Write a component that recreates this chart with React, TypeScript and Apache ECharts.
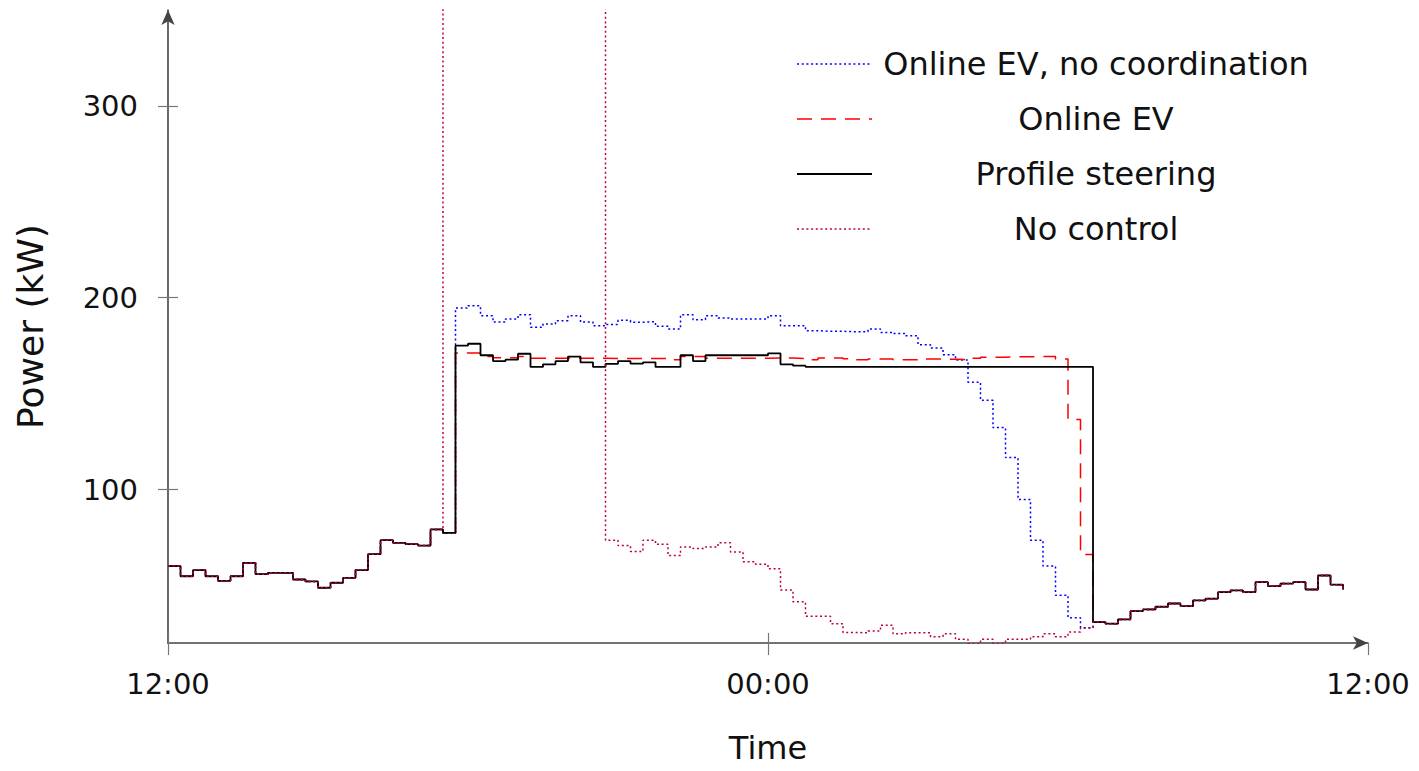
import React, { useEffect, useRef } from "react";
import * as echarts from "echarts";

// ---- labels ----
const seriesNames = [
  "Online EV, no coordination",
  "Online EV",
  "Profile steering",
  "No control",
];
const xTickValues = [0, 12, 24];
const xTickLabels = ["12:00", "00:00", "12:00"];
const yTickValues = [100, 200, 300];

// 15-minute steps, hours after 12:00
const STEP_HOURS = 0.25;

// shared load 12:00 - 17:30 (steps 0..21), kW
const afternoonBase = [
  60.1, 54.8, 58.0, 54.8, 52.4, 54.8, 61.8, 55.9, 56.6, 56.6, 53.1,
  52.1, 48.8, 51.4, 54.0, 58.0, 66.3, 73.6, 72.2, 71.5, 70.8, 79.2,
];

// shared load 06:30 - 11:30 (steps 74..93 plus closing point), kW
const morningBase = [
  30.9, 30.1, 32.3, 36.6, 37.5, 38.9, 40.6, 39.2, 42.2, 43.1, 46.5,
  47.4, 46.5, 51.7, 49.6, 51.0, 51.7, 47.9, 55.2, 50.4, 47.9,
];

// charging window 17:30 - 06:30 (steps 22..73), kW
const noCoordinationWindow = [
  77.4, 194.6, 195.8, 190.6, 187.3, 188.9, 191.1, 184.6, 186.3, 188.0,
  190.6, 187.3, 185.4, 186.1, 188.2, 187.2, 187.5, 185.1, 183.7, 191.1,
  188.5, 190.6, 189.4, 188.9, 188.9, 188.9, 190.6, 185.4, 185.4, 182.8,
  182.5, 182.5, 182.3, 182.3, 183.7, 181.9, 181.3, 180.2, 175.5, 173.8,
  170.3, 167.5, 156.0, 146.5, 132.3, 116.7, 94.8, 73.6, 60.1, 44.9,
  33.2, 28.0,
];
const onlineEVWindow = [
  77.4, 171.2, 171.2, 169.4, 168.7, 168.7, 169.4, 168.5, 168.5, 168.5,
  168.5, 168.5, 168.5, 168.3, 168.3, 168.3, 168.3, 168.3, 167.7, 169.4,
  169.4, 168.5, 168.5, 168.5, 168.5, 168.5, 168.6, 168.6, 168.3, 167.7,
  168.6, 168.6, 168.2, 167.7, 168.1, 168.1, 167.7, 167.7, 168.1, 168.1,
  167.9, 167.7, 168.4, 169.0, 169.0, 169.2, 169.2, 169.4, 169.4, 168.1,
  136.5, 66.1,
];
const profileSteeringWindow = [
  77.4, 175.0, 176.0, 170.0, 167.0, 167.7, 170.8, 163.9, 165.3, 167.0,
  169.3, 166.3, 163.9, 165.5, 167.0, 165.6, 166.3, 163.9, 163.9, 170.0,
  167.0, 170.0, 170.0, 170.0, 170.0, 170.0, 171.0, 165.3, 164.6, 164.0,
  164.0, 164.0, 164.0, 164.0, 164.0, 164.0, 164.0, 164.0, 164.0, 164.0,
  164.0, 164.0, 164.0, 164.0, 164.0, 164.0, 164.0, 164.0, 164.0, 164.0,
  164.0, 164.0,
];
// 17:30 - 20:45 the uncontrolled peak runs far above the plot (clipped)
const noControlWindow = [
  400, 400, 400, 400, 400, 400, 400, 400, 400, 400, 400, 400, 400,
  73.6, 70.8, 67.7, 73.6, 71.5, 65.6, 70.0, 69.3, 70.0, 72.2, 67.5,
  62.3, 61.1, 58.7, 47.6, 41.5, 33.9, 33.9, 30.1, 25.5, 25.3, 26.2,
  29.2, 24.8, 25.3, 25.3, 23.3, 24.8, 21.9, 19.6, 21.9, 19.8, 21.9,
  21.9, 23.3, 24.8, 23.3, 25.7, 27.8,
];

const windows = [
  noCoordinationWindow,
  onlineEVWindow,
  profileSteeringWindow,
  noControlWindow,
];

const colors = ["#0000ff", "#ff0000", "#000000", "#bf0040"];
const dashes: any[] = [[2, 2.7], [15, 9], "solid", [2, 2.7]];
const widths = [1.5, 1.5, 1.8, 1.5];

const FONT = "'DejaVu Sans', sans-serif";
const TEXT = "#111";

function buildPoints(win: number[]) {
  const all = [...afternoonBase, ...win, ...morningBase];
  return all.map((v, k) => [k * STEP_HOURS, v]);
}

export default function App() {
  const ref = useRef<HTMLDivElement>(null);

  useEffect(() => {
    if (!ref.current) return;
    const chart = echarts.init(ref.current, null, { renderer: "svg" });

    const series = seriesNames.map((name, i) => ({
      name,
      type: "line",
      step: "end",
      showSymbol: false,
      symbol: "none",
      clip: true,
      data: buildPoints(windows[i]),
      lineStyle: { color: colors[i], width: widths[i], type: dashes[i] },
      itemStyle: { color: colors[i] },
      z: 2 + i,
    }));

    const legendRowsY = [64, 119, 174, 229];
    const legendGraphics: any[] = [];
    seriesNames.forEach((name, i) => {
      legendGraphics.push({
        type: "line",
        shape: { x1: 797, y1: legendRowsY[i], x2: 872, y2: legendRowsY[i] },
        style: {
          stroke: colors[i],
          lineWidth: widths[i],
          lineDash: dashes[i] === "solid" ? null : dashes[i],
        },
      });
      legendGraphics.push({
        type: "text",
        x: 1096,
        y: legendRowsY[i],
        style: {
          text: name,
          fill: TEXT,
          font: `32px ${FONT}`,
          textAlign: "center",
          textVerticalAlign: "middle",
        },
      });
    });

    chart.setOption({
      animation: false,
      backgroundColor: "#ffffff",
      grid: { left: 168, right: 51, top: 10, bottom: 128, containLabel: false },
      xAxis: [
        {
          type: "value",
          min: 0,
          max: 24,
          name: "Time",
          nameLocation: "middle",
          nameGap: 89,
          nameTextStyle: { fontSize: 32, fontFamily: FONT, color: TEXT },
          splitLine: { show: false },
          axisLine: {
            show: true,
            lineStyle: { color: "#444", width: 1.6 },
            symbol: ["none", "arrow"],
            symbolSize: [10, 15],
          },
          axisTick: {
            show: true,
            inside: false,
            length: 12,
            customValues: xTickValues,
            lineStyle: { color: "#777", width: 1.2 },
          },
          axisLabel: {
            show: true,
            customValues: xTickValues,
            margin: 26,
            fontSize: 29,
            fontFamily: FONT,
            color: TEXT,
            formatter: (v: number) => xTickLabels[xTickValues.indexOf(v)] ?? "",
          },
        },
        {
          type: "value",
          min: 0,
          max: 24,
          position: "bottom",
          splitLine: { show: false },
          axisLine: { show: false },
          axisLabel: { show: false },
          axisTick: {
            show: true,
            inside: true,
            length: 10,
            customValues: xTickValues.slice(0, 2),
            lineStyle: { color: "#777", width: 1.2 },
          },
        },
      ],
      yAxis: [
        {
          type: "value",
          min: 20,
          max: 350,
          name: "Power (kW)",
          nameLocation: "middle",
          nameGap: 120,
          nameRotate: 90,
          nameTextStyle: { fontSize: 36, fontFamily: FONT, color: TEXT },
          splitLine: { show: false },
          axisLine: {
            show: true,
            lineStyle: { color: "#444", width: 1.6 },
            symbol: ["none", "arrow"],
            symbolSize: [10, 15],
          },
          axisTick: {
            show: true,
            inside: false,
            length: 10,
            customValues: yTickValues,
            lineStyle: { color: "#777", width: 1.2 },
          },
          axisLabel: {
            show: true,
            customValues: yTickValues,
            margin: 30,
            fontSize: 29,
            fontFamily: FONT,
            color: TEXT,
          },
        },
        {
          type: "value",
          min: 20,
          max: 350,
          position: "left",
          splitLine: { show: false },
          axisLine: { show: false },
          axisLabel: { show: false },
          axisTick: {
            show: true,
            inside: true,
            length: 10,
            customValues: yTickValues,
            lineStyle: { color: "#777", width: 1.2 },
          },
        },
      ],
      graphic: legendGraphics,
      series,
    });

    return () => chart.dispose();
  }, []);

  return (
    <div
      ref={ref}
      style={{ position: "fixed", left: 0, top: 0, width: 1419, height: 771 }}
    />
  );
}
